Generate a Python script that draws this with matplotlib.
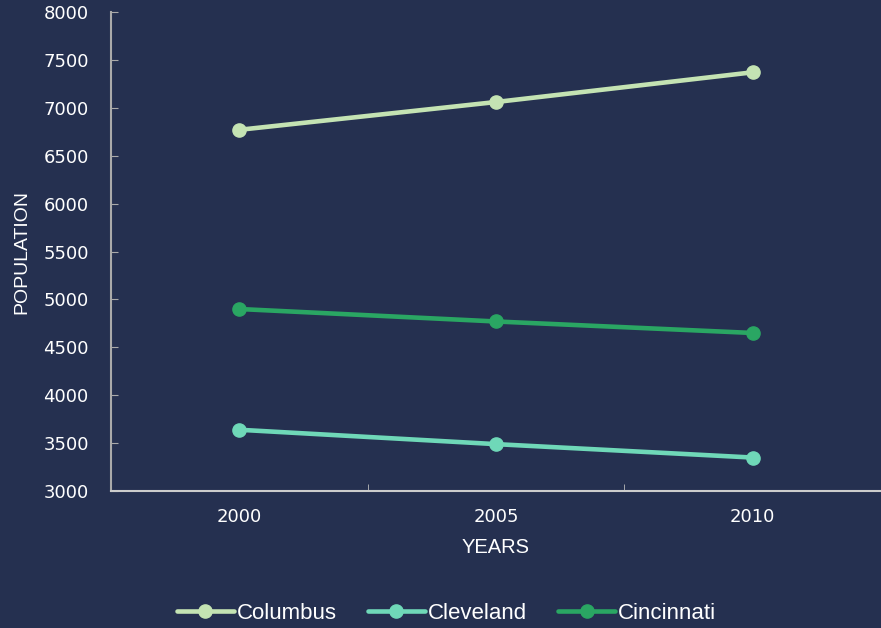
import matplotlib
matplotlib.use("Agg")
import matplotlib.pyplot as plt

years = ["2000", "2005", "2010"]
columbus = [6770, 7060, 7370]
cleveland = [3640, 3490, 3350]
cincinnati = [4900, 4770, 4650]
y_ticks = [3000, 3500, 4000, 4500, 5000, 5500, 6000, 6500, 7000, 7500, 8000]

bg = "#253050"
plt.rcParams['font.family'] = ['Liberation Sans', 'DejaVu Sans']

fig = plt.figure(figsize=(8.81, 6.28), dpi=100, facecolor=bg)
ax = fig.add_axes([0.126, 0.218, 0.874, 0.763], facecolor=bg)

x = list(range(len(years)))
series = [("Columbus", columbus, "#c4e3b3"),
          ("Cleveland", cleveland, "#6fd8b8"),
          ("Cincinnati", cincinnati, "#2aa663")]
for name, vals, c in series:
    ax.plot(x, vals, color=c, lw=3.3, marker="o", ms=9.5, label=name,
            solid_capstyle="round")

ax.set_xlim(-0.5, 2.5)
ax.set_ylim(3000, 8000)
ax.set_yticks(y_ticks)
ax.set_xticks(x)
ax.set_xticklabels(years)
ax.set_xticks([-0.5, 0.5, 1.5, 2.5], minor=True)
ax.tick_params(axis="x", which="major", length=0, colors="white", labelsize=13, pad=12)
ax.tick_params(axis="x", which="minor", length=5, direction="in", color="#bbbbbb")
ax.tick_params(axis="y", length=5, direction="in", color="#aaaaaa", labelcolor="white",
               labelsize=13, pad=16)
for lab in ax.get_xticklabels() + ax.get_yticklabels():
    lab.set_family(['DejaVu Sans'])

for s in ["top", "right"]:
    ax.spines[s].set_visible(False)
ax.spines["left"].set_color("#aaaaaa")
ax.spines["bottom"].set_color("#cccccc")
ax.spines["left"].set_linewidth(1.5)
ax.spines["bottom"].set_linewidth(1.5)

ax.set_xlabel("YEARS", color="white", fontsize=14.5, labelpad=9)
ax.set_ylabel("POPULATION", color="white", fontsize=14, labelpad=8)
ax.yaxis.set_label_coords(-0.105, 0.5)

leg = fig.legend(loc="center", bbox_to_anchor=(0.507, 0.023), ncol=3, frameon=False,
                 fontsize=16, labelcolor="white", handlelength=2.55, columnspacing=1.4,
                 handletextpad=0.15)

fig.savefig("out.png", dpi=100, facecolor=bg)
